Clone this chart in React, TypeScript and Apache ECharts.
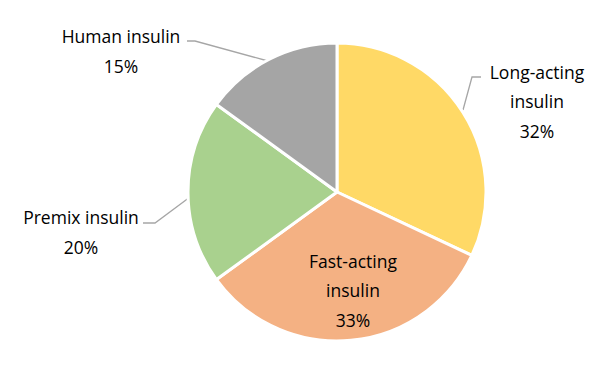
import React, { useEffect, useRef } from "react";
import * as echarts from "echarts";

const categories = ["Long-acting\ninsulin", "Fast-acting\ninsulin", "Premix insulin", "Human insulin"];
const values = [32, 33, 20, 15];
const colors = ["#FFD966", "#F4B183", "#A9D18E", "#A5A5A5"];

// label anchor positions (label layout only)
const labelPos: [number, number][] = [
  [537, 101],
  [353, 290],
  [81, 232],
  [121, 51],
];
const linePts: ([number, number][] | null)[] = [
  [[463, 110], [472, 77], [481, 77]],
  null,
  [[190, 197], [155, 223], [143, 223]],
  [[268, 61], [195, 41], [187, 41]],
];

export default function App() {
  const ref = useRef<HTMLDivElement>(null);
  useEffect(() => {
    document.body.style.margin = "0";
    const chart = echarts.init(ref.current!, undefined, { renderer: "svg" });
    chart.setOption({
      animation: false,
      backgroundColor: "#ffffff",
      series: [
        {
          type: "pie",
          center: [337, 192],
          radius: [0, 149],
          startAngle: 90,
          clockwise: true,
          itemStyle: { borderColor: "#ffffff", borderWidth: 3 },
          label: {
            show: true,
            formatter: (p: any) => `${p.name}\n${p.value}%`,
            fontFamily: "Open Sans",
            fontSize: 17.5,
            lineHeight: 29.5,
            color: "#000000",
            align: "center",
            overflow: "none",
            edgeDistance: 0,
            bleedMargin: 0,
          },
          labelLine: {
            show: true,
            lineStyle: { color: "#A6A6A6", width: 1.3 },
          },
          labelLayout: (params: any) => {
            const i = params.dataIndex;
            const out: any = {
              x: labelPos[i][0],
              y: labelPos[i][1],
              align: "center",
              verticalAlign: "middle",
            };
            if (linePts[i]) out.labelLinePoints = linePts[i];
            return out;
          },
          data: categories.map((c, i) => ({
            name: c,
            value: values[i],
            itemStyle: { color: colors[i] },
            label: i === 1 ? { position: "inside" } : {},
            labelLine: i === 1 ? { show: false } : {},
          })),
        },
      ],
    });
    return () => chart.dispose();
  }, []);
  return <div ref={ref} style={{ width: 612, height: 366 }} />;
}
